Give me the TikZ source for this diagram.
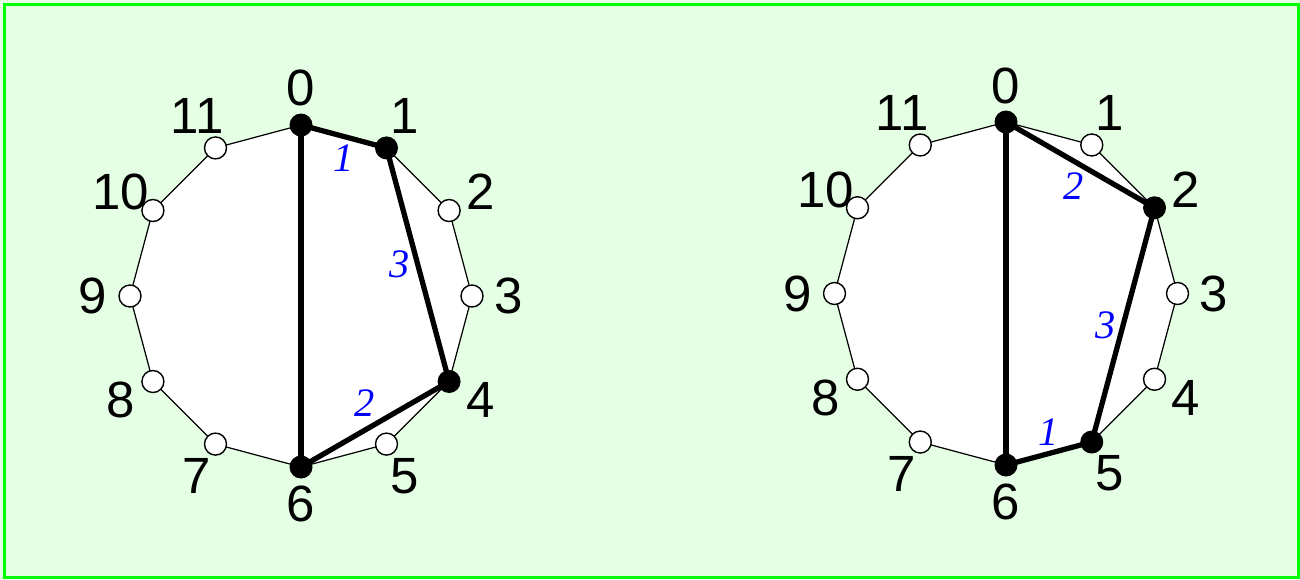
\documentclass[tikz,border=0pt]{standalone}
\usepackage{fontspec}
\setmainfont{Liberation Serif}
\setsansfont{Liberation Sans}
\usepackage{xcolor}
\usetikzlibrary{calc}
\definecolor{panelgreen}{HTML}{E5FFE5}
\definecolor{rimgreen}{HTML}{00FF00}

\begin{document}
\begin{tikzpicture}[scale=1.0,
  hole/.style={circle, draw, fill=white, line width=0.4pt, inner sep=0pt, minimum size=0.22cm},
  dot/.style={circle, fill=black, inner sep=0pt, minimum size=0.23cm},
  rim/.style={draw=black, fill=white, line width=0.35pt},
  chord/.style={line width=1.5pt},
  vlab/.style={font=\sffamily\fontsize{14.5}{16}\selectfont},
  wlab/.style={font=\itshape\fontsize{11.5}{13}\selectfont, text=blue, inner sep=1.5pt}]
\useasboundingbox (0,0) rectangle (13,5.79);
\fill[panelgreen] (0,0) rectangle (13,5.79);
\draw[rimgreen, line width=0.85pt] (0.045,0.015) rectangle (12.985,5.745);

\coordinate (lc) at (3.01,2.83);
\coordinate (rc) at (10.06,2.855);

% left 12-gon
\foreach \i in {0,...,11}
  \coordinate (L\i) at ($(lc)+(90-30*\i:1.71)$);
\draw[rim] (L0) \foreach \i in {1,...,11}{ -- (L\i)} -- cycle;
\draw[chord] (L0) -- (L6);
\draw[chord] (L0) -- (L1) node[midway, below, wlab] {1};
\draw[chord] (L1) -- (L4) node[midway, left, wlab] {3};
\draw[chord] (L6) -- (L4) node[midway, above, xshift=-3pt, wlab] {2};
\foreach \i in {2,3,5,7,8,9,10,11}
  \node[hole] (Lm\i) at (L\i) {};
\foreach \i in {0,1,4,6}
  \node[dot] (Lm\i) at (L\i) {};
\foreach \i in {0,...,11}
  \node[vlab] (Ln\i) at ($(lc)+(90-30*\i:2.08)$) {\i};

% right 12-gon
\foreach \i in {0,...,11}
  \coordinate (R\i) at ($(rc)+(90-30*\i:1.715)$);
\draw[rim] (R0) \foreach \i in {1,...,11}{ -- (R\i)} -- cycle;
\draw[chord] (R0) -- (R6);
\draw[chord] (R0) -- (R2) node[midway, below, xshift=-2pt, wlab] {2};
\draw[chord] (R2) -- (R5) node[midway, left, wlab] {3};
\draw[chord] (R6) -- (R5) node[midway, above, wlab] {1};
\foreach \i in {1,3,4,7,8,9,10,11}
  \node[hole] (Rm\i) at (R\i) {};
\foreach \i in {0,2,5,6}
  \node[dot] (Rm\i) at (R\i) {};
\foreach \i in {0,...,11}
  \node[vlab] (Rn\i) at ($(rc)+(90-30*\i:2.08)$) {\i};
\end{tikzpicture}
\end{document}
